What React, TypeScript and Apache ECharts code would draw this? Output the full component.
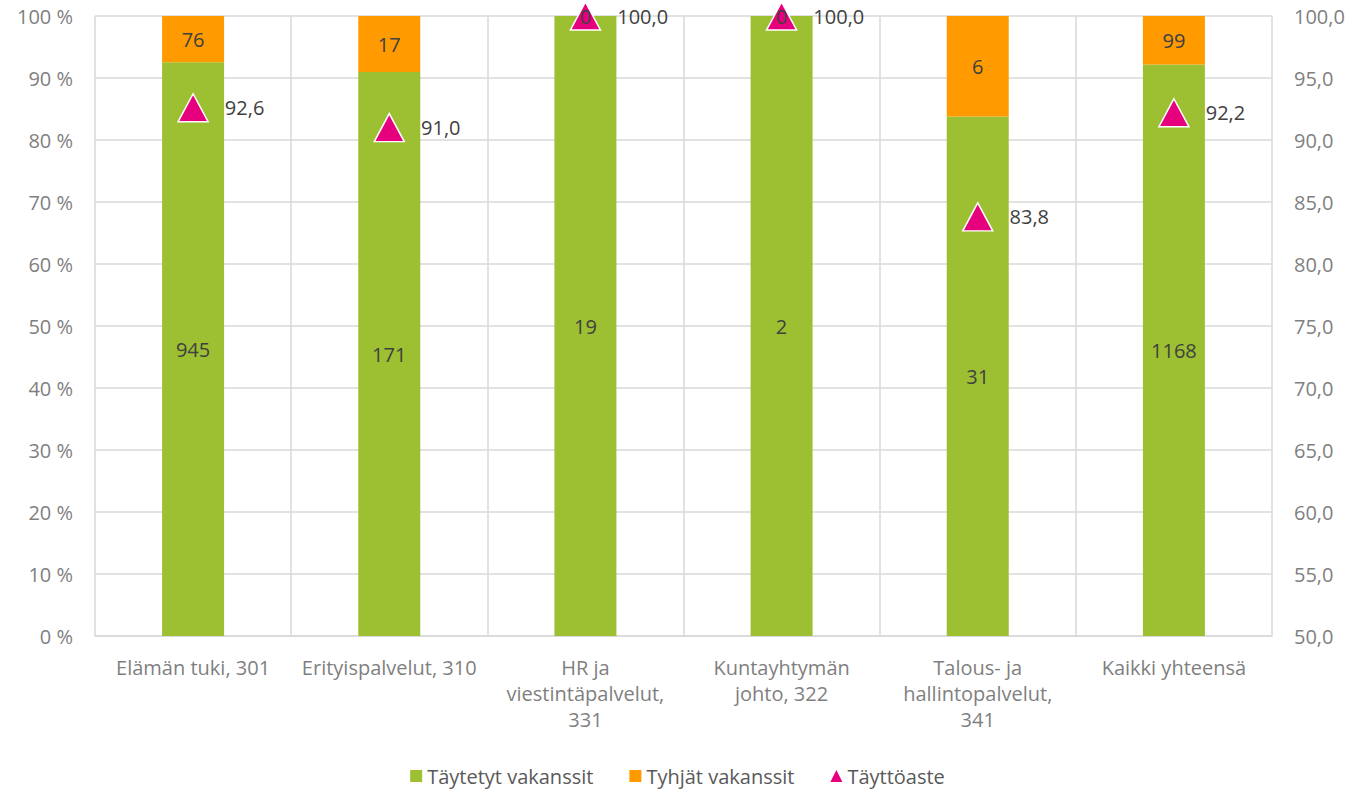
import React, { useEffect, useRef } from "react";
import * as echarts from "echarts";

const categories = [
  "Elämän tuki, 301",
  "Erityispalvelut, 310",
  "HR ja\nviestintäpalvelut,\n331",
  "Kuntayhtymän\njohto, 322",
  "Talous- ja\nhallintopalvelut,\n341",
  "Kaikki yhteensä",
];
const filled = [945, 171, 19, 2, 31, 1168];
const empty = [76, 17, 0, 0, 6, 99];
const fillRate = [92.6, 91.0, 100.0, 100.0, 83.8, 92.2];

const FONT = "'Open Sans', sans-serif";
const FS = 20;

export default function App() {
  const ref = useRef<HTMLDivElement>(null);
  useEffect(() => {
    document.body.style.margin = "0";
    if (!ref.current) return;
    const chart = echarts.init(ref.current, undefined, { renderer: "svg" });
    const totals = filled.map((f, i) => f + empty[i]);
    const filledPct = filled.map((f, i) => ({ value: (f / totals[i]) * 100, count: f }));
    const emptyPct = empty.map((e, i) => ({ value: (e / totals[i]) * 100, count: e }));
    const gridColor = "#d9d9d9";
    chart.setOption({
      animation: false,
      textStyle: { fontFamily: FONT },
      grid: { left: 95, right: 83, top: 16, bottom: 157, containLabel: false },
      legend: {
        bottom: 2,
        left: "center",
        itemWidth: 12,
        itemHeight: 12,
        itemGap: 36,
        textStyle: { fontFamily: FONT, fontSize: FS, color: "#595959" },
        data: [
          { name: "Täytetyt vakanssit", icon: "rect" },
          { name: "Tyhjät vakanssit", icon: "rect" },
          { name: "Täyttöaste", icon: "triangle", itemStyle: { borderWidth: 0 } },
        ],
      },
      xAxis: {
        type: "category",
        data: categories,
        axisLine: { show: true, lineStyle: { color: gridColor, width: 1.5 } },
        axisTick: { show: false },
        splitLine: { show: true, lineStyle: { color: gridColor, width: 1.5 } },
        axisLabel: {
          interval: 0,
          color: "#7f7f7f",
          fontSize: FS,
          fontFamily: FONT,
          lineHeight: 26,
          margin: 18,
        },
      },
      yAxis: [
        {
          type: "value",
          min: 0,
          max: 100,
          interval: 10,
          axisLine: { show: false },
          axisTick: { show: false },
          splitLine: { show: true, lineStyle: { color: gridColor, width: 1.5 } },
          axisLabel: {
            formatter: "{value} %",
            color: "#7f7f7f",
            fontSize: FS,
            fontFamily: FONT,
            margin: 22,
          },
        },
        {
          type: "value",
          min: 50,
          max: 100,
          interval: 5,
          axisLine: { show: false },
          axisTick: { show: false },
          splitLine: { show: false },
          axisLabel: {
            formatter: (v: number) => v.toFixed(1).replace(".", ","),
            color: "#7f7f7f",
            fontSize: FS,
            fontFamily: FONT,
            margin: 22,
          },
        },
      ],
      series: [
        {
          name: "Täytetyt vakanssit",
          type: "bar",
          stack: "s",
          barWidth: 62,
          z: 2,
          data: filledPct,
          itemStyle: { color: "#9dc032" },
          label: {
            show: true,
            position: "inside",
            formatter: (p: any) => String(p.data.count),
            color: "#404040",
            fontSize: FS,
            fontFamily: FONT,
          },
        },
        {
          name: "Tyhjät vakanssit",
          type: "bar",
          stack: "s",
          barWidth: 62,
          z: 6,
          data: emptyPct,
          itemStyle: { color: "#ff9a00" },
          label: {
            show: true,
            position: "inside",
            formatter: (p: any) => String(p.data.count),
            color: "#404040",
            fontSize: FS,
            fontFamily: FONT,
          },
        },
        {
          name: "Täyttöaste",
          type: "scatter",
          yAxisIndex: 1,
          data: fillRate,
          symbol: "triangle",
          symbolSize: [30, 28],
          itemStyle: { color: "#e6007e", borderColor: "#ffffff", borderWidth: 1.5, opacity: 1 },
          z: 5,
          label: {
            show: true,
            position: "right",
            distance: 16,
            formatter: (p: any) => Number(p.value).toFixed(1).replace(".", ","),
            color: "#404040",
            fontSize: FS,
            fontFamily: FONT,
          },
        },
      ],
    });
    return () => chart.dispose();
  }, []);
  return <div ref={ref} style={{ width: 1355, height: 793 }} />;
}
